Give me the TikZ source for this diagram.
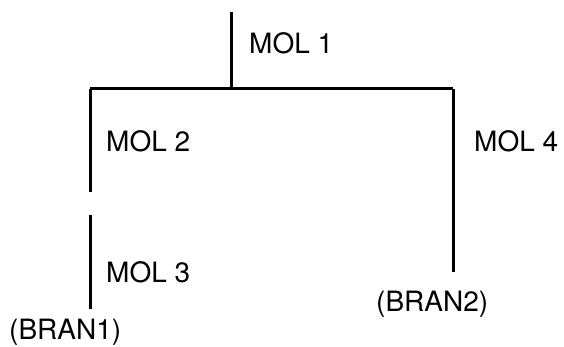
\documentclass[tikz,border=0pt]{standalone}
\usepackage{fontspec}
\setmainfont{TeX Gyre Heros}
\begin{document}
\begin{tikzpicture}[x=1pt,y=-1pt,
  bond/.style={line width=3pt,line cap=butt},
  lbl/.style={font=\fontsize{28}{30}\selectfont,inner sep=0pt,anchor=base west}]
\useasboundingbox (0,0) rectangle (564,347);
% tree points
\coordinate (top) at (231,12);
\coordinate (root) at (231,89);
\coordinate (lcorner) at (90,89);
\coordinate (rcorner) at (453,89);
\coordinate (lend) at (90,192);
\coordinate (lstart2) at (90,215);
\coordinate (lend2) at (90,309);
\coordinate (rend) at (453,272);
% branches
\draw[bond] (top) -- (root);
\draw[bond] (lcorner) -- (rcorner);
\draw[bond] (lcorner) -- (lend);
\draw[bond] (lstart2) -- (lend2);
\draw[bond] (rcorner) -- (rend);
% labels
\node[lbl] (m1) at (249,54) {MOL 1};
\node[lbl] (m2) at (106,152) {MOL 2};
\node[lbl] (m3) at (106,282) {MOL 3};
\node[lbl] (m4) at (474,152) {MOL 4};
\node[lbl] (b1) at (9,339) {(BRAN1)};
\node[lbl] (b2) at (376,311) {(BRAN2)};
\end{tikzpicture}
\end{document}
